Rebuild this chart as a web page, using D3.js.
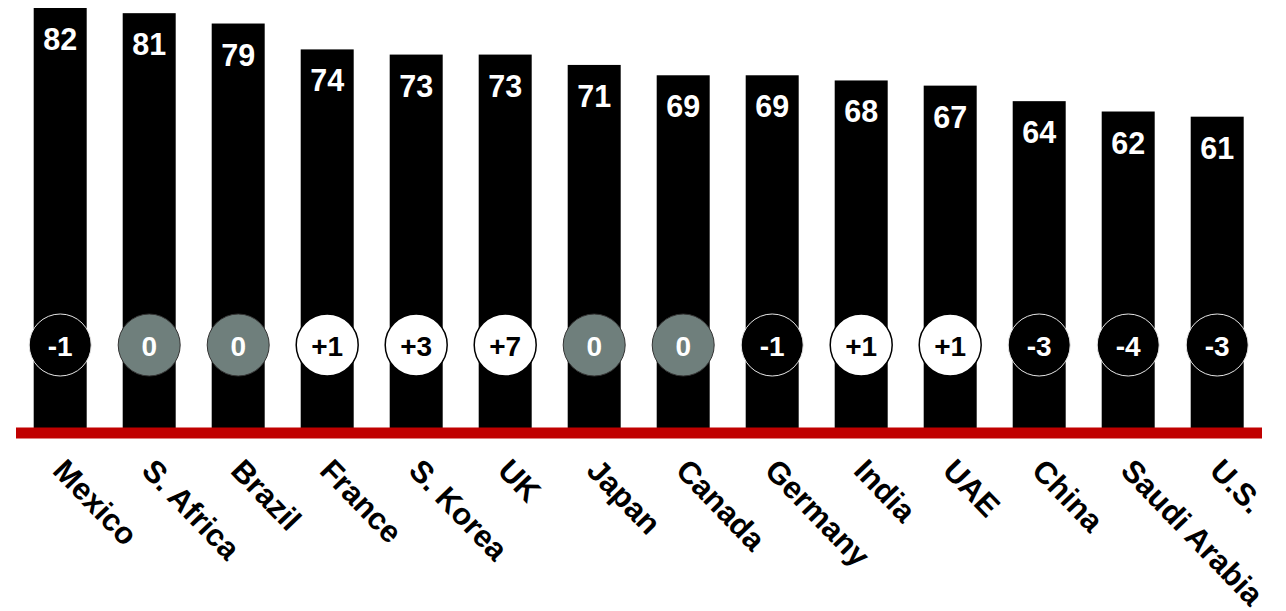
<!DOCTYPE html>
<html>
<head>
<meta charset="utf-8">
<script src="https://cdn.jsdelivr.net/npm/d3@7"></script>
<style>
html,body{margin:0;padding:0;background:#fff;}
svg{display:block;font-family:"Liberation Sans",Arial,sans-serif;}
</style>
</head>
<body>
<svg id="chart" width="1286" height="611"></svg>
<script>
const countries = ["Mexico","S. Africa","Brazil","France","S. Korea","UK","Japan","Canada","Germany","India","UAE","China","Saudi Arabia","U.S."];
const scores = [82,81,79,74,73,73,71,69,69,68,67,64,62,61];
const changes = [-1,0,0,1,3,7,0,0,-1,1,1,-3,-4,-3];

const svg = d3.select("#chart");
const x = d3.scaleBand().domain(countries).range([33.7,1243.7]).paddingInner(0.4045).paddingOuter(0);
const y = d3.scaleLinear().domain([0,82]).range([432.4,8]);

const data = countries.map((c,i)=>({c, v:scores[i], d:changes[i]}));

svg.selectAll("rect.bar").data(data).join("rect")
  .attr("class","bar")
  .attr("x",d=>x(d.c)).attr("width",x.bandwidth())
  .attr("y",d=>y(d.v)).attr("height",d=>y(0)-y(d.v))
  .attr("fill","#000");

svg.selectAll("text.val").data(data).join("text")
  .attr("class","val")
  .attr("x",d=>x(d.c)+x.bandwidth()/2)
  .attr("y",d=>y(d.v)+42)
  .attr("text-anchor","middle")
  .attr("font-size",30.5).attr("font-weight","bold").attr("fill","#fff")
  .text(d=>d.v);

const cy = 345;
const fillFor = d => d.d>0 ? "#fff" : (d.d<0 ? "#000" : "#6f7f7c");
const strokeFor = d => d.d>0 ? "#000" : (d.d<0 ? "#e6e6e6" : "#333");
svg.selectAll("circle.chg").data(data).join("circle")
  .attr("class","chg")
  .attr("cx",d=>x(d.c)+x.bandwidth()/2).attr("cy",cy).attr("r",31)
  .attr("fill",fillFor).attr("stroke",strokeFor).attr("stroke-width",d=>d.d>0?1.5:1);

svg.selectAll("text.chg").data(data).join("text")
  .attr("class","chg")
  .attr("x",d=>x(d.c)+x.bandwidth()/2)
  .attr("y",cy+11)
  .attr("text-anchor","middle")
  .attr("font-size",28).attr("font-weight","bold")
  .attr("fill",d=>d.d>0?"#000":"#fff")
  .text(d=>d.d>0?"+"+d.d:String(d.d));

svg.append("rect").attr("x",16).attr("width",1246).attr("y",427.5).attr("height",11).attr("fill","#c00000");

svg.selectAll("text.cat").data(data).join("text")
  .attr("class","cat")
  .attr("transform",d=>`translate(${x(d.c)+x.bandwidth()/2-9},472) rotate(46)`)
  .attr("text-anchor","start")
  .attr("font-size",31).attr("font-weight","bold").attr("fill","#000")
  .text(d=>d.c);
</script>
</body>
</html>
